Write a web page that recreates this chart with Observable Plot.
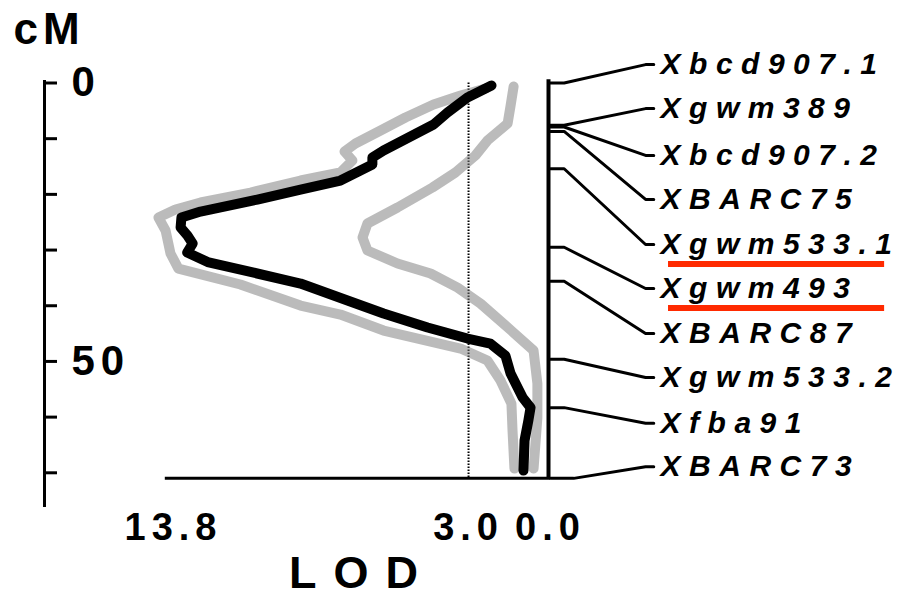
<!DOCTYPE html>
<html><head><meta charset="utf-8">
<script src="https://cdn.jsdelivr.net/npm/d3@7"></script>
<script src="https://cdn.jsdelivr.net/npm/@observablehq/plot@0.6"></script>
<style>
html,body{margin:0;padding:0;background:#fff;}
#chart svg{display:block;}
.mk text{letter-spacing:8.5px;}
.ax text{letter-spacing:6px;}
.cm text{letter-spacing:5px;}
.lod text{letter-spacing:17px;}
</style></head><body><div id="chart"></div>
<script>
// ---- data ----
const cmTicks = [0, 10, 20, 30, 40, 50, 60, 70];
const cmLabels = [0, 50];
const lodTicks = [13.8, 3.0, 0.0];
const threshold = 3.0;

// black LOD profile
const blackLOD = [2.16,3.04,3.77,4.28,6.11,6.52,6.52,7.69,9.15,10.73,12.81,13.51,13.54,13.29,13.10,13.30,12.55,9.15,7.43,6.11,4.50,3.04,2.20,1.65,1.46,1.02,0.73,0.81,0.95,0.99];
const blackCM  = [0.45,2.60,5.30,7.45,12.12,13.38,14.64,17.51,19.13,20.93,23.08,24.16,25.95,27.39,28.83,30.44,32.15,36.01,39.06,41.40,43.91,45.89,46.79,48.95,52.18,56.48,58.28,60.61,64.21,69.60];
// grey profile 1 (high peak)
const gray1LOD = [2.38,3.29,4.28,5.31,6.22,7.14,7.54,7.25,7.69,9.15,10.98,12.81,13.73,14.35,14.09,13.91,13.62,11.35,9.15,7.69,6.11,3.29,2.31,1.83,1.43,1.39,1.32];
const gray1CM  = [0.99,2.24,3.86,6.20,8.53,10.87,12.30,13.92,16.07,17.51,19.67,21.46,22.72,24.16,26.49,30.62,33.32,36.19,39.96,41.58,44.45,47.68,49.84,53.43,57.56,62.41,69.24];
// grey profile 2 (low peak)
const gray2LOD = [1.35,1.46,1.57,2.31,2.75,3.48,4.32,5.60,6.70,6.88,6.70,5.60,4.39,3.40,2.56,1.35,0.62,0.48,0.48,0.62];
const gray2CM  = [0.63,4.04,7.27,10.33,13.02,16.07,18.77,22.36,25.23,27.75,30.08,32.42,34.21,36.75,39.62,44.83,48.05,53.97,60.08,69.24];

// markers on the linkage map
const markerNames = ["Xbcd907.1","Xgwm389","Xbcd907.2","XBARC75","Xgwm533.1","Xgwm493","XBARC87","Xgwm533.2","Xfba91","XBARC73"];
const markerCM    = [0, 7.6, 7.9, 8.7, 15.4, 29.5, 35.6, 49.6, 58.3, 71.0];
const labelCM     = [-3.3, 4.6, 13.0, 20.9, 29.0, 36.9, 45.0, 52.9, 61.1, 68.9];
const highlighted = ["Xgwm533.1", "Xgwm493"];

const chromTop = -0.6, chromEnd = 71.0;

// ---- build tables ----
const toRows = (lods, cms) => lods.map((v, i) => ({lod: v, cm: cms[i]}));
const black = toRows(blackLOD, blackCM);
const gray1 = toRows(gray1LOD, gray1CM);
const gray2 = toRows(gray2LOD, gray2CM);

// connector geometry, in LOD units of the shared horizontal scale (panel right of LOD 0)
const elbowA = -0.5, elbowB = -3.48, connEnd = -3.78, textAt = -4.03, ulStart = -4.32, ulEnd = -12.23;
const conn = [];
markerNames.forEach((n, i) => {
  conn.push({name: n, lod: 0, cm: markerCM[i]});
  conn.push({name: n, lod: (n === "XBARC73" ? -0.85 : elbowA), cm: markerCM[i]});
  conn.push({name: n, lod: elbowB, cm: labelCM[i]});
  conn.push({name: n, lod: connEnd, cm: labelCM[i]});
});
const labels = markerNames.map((n, i) => ({name: n, cm: labelCM[i]}));
const under = labels.filter(d => highlighted.includes(d.name));

const W = 902, H = 599;
const mL = 44, mT = 81, mB = 94;

const bold = {fontWeight: "bold", fill: "black"};
const svg = Plot.plot({
  width: W, height: H,
  marginLeft: mL, marginTop: mT, marginBottom: mB, marginRight: 0,
  style: {fontFamily: "'Liberation Sans', Arial, Helvetica, sans-serif", background: "white", color: "black"},
  x: {domain: [13.8, 0], range: [173, 550], axis: null},
  y: {domain: [0, 70], range: [82.5, 472.3], axis: null},
  marks: [
    // left cM axis
    Plot.frame({anchor: "left", strokeWidth: 3, stroke: "black"}),
    Plot.ruleY(cmTicks, {y: d => d, insetRight: W - mL - 13, strokeWidth: 3, stroke: "black"}),
    Plot.text(cmLabels, {y: d => d, text: d => String(d), frameAnchor: "left", dx: 27, textAnchor: "start", lineAnchor: "middle", fontSize: 42, ...bold, className: "ax"}),
    Plot.text(["cM"], {text: d => d, frameAnchor: "top-left", dx: -31, dy: -52, textAnchor: "start", lineAnchor: "middle", fontSize: 44, ...bold, className: "cm"}),
    // LOD baseline and threshold
    Plot.ruleY([chromEnd], {x1: 14.1, x2: 0, strokeWidth: 3, stroke: "black"}),
    Plot.ruleX([threshold], {y1: 0, y2: chromEnd, stroke: "black", strokeWidth: 2, strokeDasharray: "1.5,1.5"}),
    // profiles
    Plot.line(gray2, {x: "lod", y: "cm", stroke: "#aaa", strokeWidth: 10, className: "stip"}),
    Plot.line(gray1, {x: "lod", y: "cm", stroke: "#aaa", strokeWidth: 10, className: "stip"}),
    Plot.line(black, {x: "lod", y: "cm", stroke: "black", strokeWidth: 10}),
    // chromosome
    Plot.ruleX([0], {y1: chromTop, y2: chromEnd, dx: -2, strokeWidth: 4, stroke: "black"}),
    Plot.line(conn, {x: "lod", y: "cm", z: "name", stroke: "black", strokeWidth: 3, curve: "linear"}),
    Plot.text(labels, {x: () => textAt, y: "cm", text: "name", textAnchor: "start", lineAnchor: "middle", fontSize: 30, fontStyle: "italic", ...bold, className: "mk"}),
    Plot.ruleY(under, {y: "cm", x1: () => ulStart, x2: () => ulEnd, dy: 19.5, stroke: "#ff2a00", strokeWidth: 6}),
    // LOD tick labels and title
    Plot.text(lodTicks, {x: d => d, text: d => d.toFixed(1), frameAnchor: "bottom", dy: 22, lineAnchor: "middle", fontSize: 38, ...bold, className: "ax"}),
    Plot.text(["LOD"], {x: () => 6.9, text: d => d, frameAnchor: "bottom", dy: 68, lineAnchor: "middle", fontSize: 45, ...bold, className: "lod"})
  ]
});

// stipple pattern for the grey profiles
const s = d3.select(svg);
const defs = s.insert("defs", ":first-child");
const p = defs.append("pattern").attr("id", "stip").attr("width", 2).attr("height", 2).attr("patternUnits", "userSpaceOnUse");
p.append("rect").attr("width", 1).attr("height", 1).attr("fill", "#555");
p.append("rect").attr("x", 1).attr("y", 1).attr("width", 1).attr("height", 1).attr("fill", "#999");
s.selectAll(".stip path").attr("stroke", "url(#stip)");

document.getElementById("chart").appendChild(svg);
</script></body></html>
